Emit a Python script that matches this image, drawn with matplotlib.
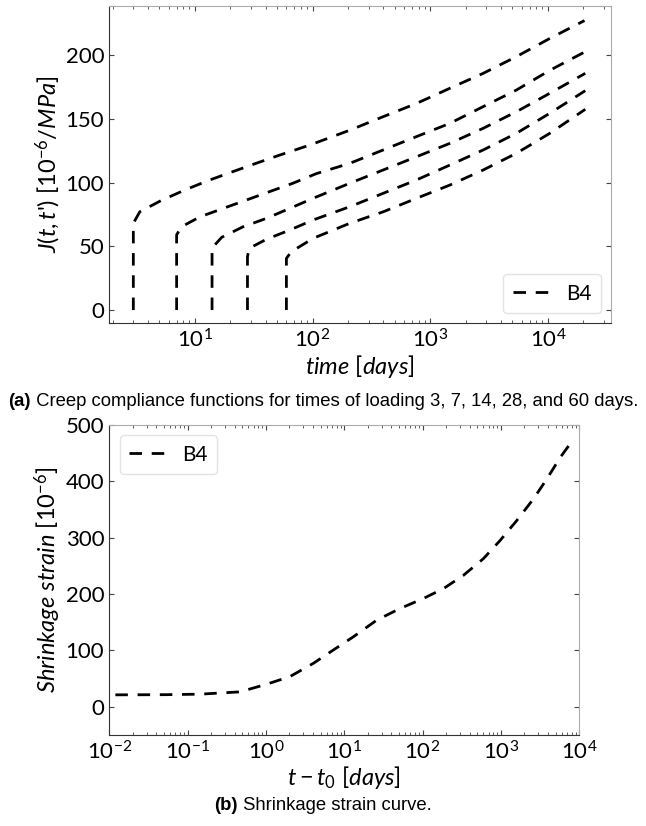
import matplotlib
matplotlib.use('Agg')
import matplotlib.pyplot as plt

plt.rcParams['font.family'] = ['Lato', 'DejaVu Sans']
plt.rcParams['mathtext.fontset'] = 'custom'
plt.rcParams['mathtext.rm'] = 'Lato'
plt.rcParams['mathtext.it'] = 'Lato:italic'
plt.rcParams['mathtext.bf'] = 'Lato:bold'

# creep compliance J(t,t') for loading ages 3, 7, 14, 28, 60 days
t1 = [3, 3, 3.4, 5.2, 8.5, 13.4, 21, 33, 53, 95, 207, 398, 765, 1470, 2820, 5400, 10400, 20500]
j1 = [0, 68, 77, 86, 94.7, 102, 108.5, 115, 121.6, 129.4, 141, 151.6, 162, 173.9, 185.6, 198.7, 213, 227]
t2 = [7, 7, 7.7, 11, 17.4, 27.5, 43, 68, 108, 207, 398, 765, 1470, 2820, 5400, 10400, 20800]
j2 = [0, 59, 65.3, 73, 79.7, 86.3, 92.8, 99.4, 107, 115, 125.5, 136, 146.4, 159.5, 172.5, 188, 202.6]
t3 = [14, 14, 16.9, 25.7, 40.6, 64, 101, 207, 398, 765, 1470, 2820, 5400, 10400, 20800]
j3 = [0, 48.6, 57, 65.3, 71.9, 79.7, 87.6, 99.4, 109.8, 120.2, 130.7, 142.5, 155.5, 170, 185.6]
t4 = [28, 28, 29, 40.6, 64, 101, 207, 398, 765, 1470, 2820, 5400, 10400, 20800]
j4 = [0, 41.8, 48.4, 55.5, 62.7, 70.6, 81, 91.5, 102, 113.7, 125.5, 138.6, 154.3, 172]
t5 = [60, 60, 66, 101, 207, 398, 765, 1470, 2820, 5400, 10400, 20800]
j5 = [0, 40.5, 45.7, 56.2, 68, 77, 87.6, 98, 109.8, 122.9, 138.6, 157.4]

# shrinkage strain vs t - t0
ts = [0.012, 0.054, 0.144, 0.467, 1.02, 2.03, 4.03, 7.26, 13.1, 26.0, 51.6, 102, 185, 331, 597, 977, 1585, 2600, 3855, 5700, 8430]
eps = [21.2, 21.5, 22.4, 26.5, 40, 53.6, 77, 100.7, 124.2, 153.7, 174.4, 192, 209.7, 233, 262.7, 295, 330, 368.7, 404, 442, 474.7]

fig = plt.figure(figsize=(6.46, 8.26), dpi=100)
ax1 = fig.add_axes([0.169, 0.6086, 0.777, 0.3841])
ax2 = fig.add_axes([0.169, 0.1102, 0.7276, 0.3753])

ls = (0, (4.5, 3.5))
curves = [(t1, j1), (t2, j2), (t3, j3), (t4, j4), (t5, j5)]
for i, (t, j) in enumerate(curves):
    ax1.plot(t, j, color='black', lw=2, linestyle=ls, label='B4' if i == 0 else None)
ax1.set_xscale('log')
ax1.set_xlim(1.87, 34500)
ax1.set_ylim(-10.4, 238.4)
ax1.set_yticks([0, 50, 100, 150, 200])
ax1.set_xlabel(r'$time\ [days]$', fontsize=17, labelpad=1)
ax1.set_ylabel(r"$J(t,t$'$)\ [10^{-6}/MPa]$", fontsize=17, labelpad=2)
ax1.legend(loc='lower right', fontsize=15, handlelength=1.75, borderpad=0.45,
           edgecolor='#dddddd', fancybox=True)

ax2.plot(ts, eps, color='black', lw=2, linestyle=ls, label='B4')
ax2.set_xscale('log')
ax2.set_xlim(1e-2, 1e4)
ax2.set_ylim(-50, 500)
ax2.set_yticks([0, 100, 200, 300, 400, 500])
ax2.set_xlabel(r'$t-t_0\ [days]$', fontsize=17, labelpad=1)
ax2.set_ylabel(r'$Shrinkage\ strain\ [10^{-6}]$', fontsize=17, labelpad=2)
ax2.legend(loc='upper left', fontsize=15, handlelength=1.75, borderpad=0.45,
           edgecolor='#dddddd', fancybox=True)

for ax in (ax1, ax2):
    ax.tick_params(which='both', direction='in', top=True, right=True,
                   labelsize=16, colors='#444444', labelcolor='black')
    for s in ('left', 'bottom'):
        ax.spines[s].set_color('#333333')
    for s in ('top', 'right'):
        ax.spines[s].set_color('#aaaaaa')

# captions: bold label + regular text, centred together
cap_font = ['Liberation Sans', 'DejaVu Sans']
fig.canvas.draw()
renderer = fig.canvas.get_renderer()
for lab, txt, ypx in [('(a)', ' Creep compliance functions for times of loading 3, 7, 14, 28, and 60 days.', 402),
                      ('(b)', ' Shrinkage strain curve.', 806)]:
    y = 1 - ypx / 826
    tb = fig.text(0, y, lab, fontsize=13.3, weight='bold', va='center', family=cap_font)
    tr = fig.text(0, y, txt, fontsize=13.3, va='center', family=cap_font)
    wb = tb.get_window_extent(renderer).width / fig.bbox.width
    wr = tr.get_window_extent(renderer).width / fig.bbox.width
    x0 = 0.5 - (wb + wr) / 2
    tb.set_x(x0)
    tr.set_x(x0 + wb)

fig.savefig('out.png', dpi=100)
